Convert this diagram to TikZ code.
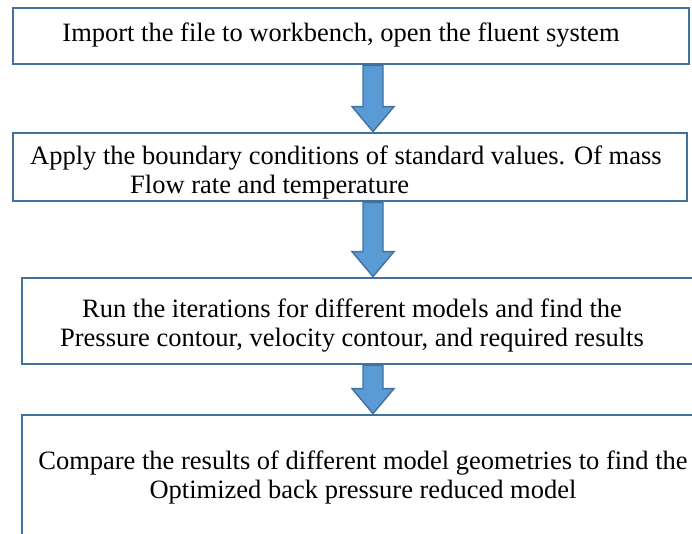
\documentclass[tikz,border=0pt]{standalone}
\usepackage{fontspec}
\setmainfont{Liberation Serif}
\usetikzlibrary{calc}
\definecolor{edgeblue}{RGB}{65,113,156}
\definecolor{arrowblue}{RGB}{91,155,213}

\begin{document}
\begin{tikzpicture}[x=1pt, y=-1pt,
      stage/.style={draw=edgeblue, line width=2.8pt, fill=white, inner sep=0pt},
      txt/.style={font=\fontsize{26.5}{29}\selectfont, align=center, inner sep=0pt},
      flowarr/.style={draw=edgeblue, line width=1.4pt, fill=arrowblue, line join=miter}]

    \useasboundingbox (0,0) rectangle (692,533);
    \clip (0,0) rectangle (692,533);
    \fill[white] (0,0) rectangle (692,533);

    \node[stage, minimum width=676pt, minimum height=56pt] (b1) at (351,36)  {};
    \node[stage, minimum width=674pt, minimum height=68pt] (b2) at (350,167) {};
    \node[stage, minimum width=700pt, minimum height=86pt] (b3) at (372,321) {};
    \node[stage, minimum width=700pt, minimum height=150pt] (b4) at (372,490) {};

    \node[txt] (t1) at (341,35) {Import the file to workbench, open the fluent system};
    \node[txt, align=left, anchor=west] (t2) at (30,172)
      {Apply the boundary conditions of standard values. Of mass\\\hspace*{100pt}Flow rate and temperature};
    \node[txt] (t3) at (352,326) {Run the iterations for different models and find the\\Pressure contour, velocity contour, and required results};
    \node[txt] (t4) at (363,477) {Compare the results of different model geometries to find the\\Optimized back pressure reduced model};

    \coordinate (ax) at (373,0);
    \foreach \a/\b in {b1/b2, b2/b3, b3/b4}
      \draw[flowarr] let \p1=(\a.south -| ax), \p2=(\b.north -| ax) in
        (\x1-10pt,\y1) -- (\x1+10pt,\y1) -- (\x1+10pt,\y2+25pt) -- (\x1+21pt,\y2+25pt)
        -- (\x2,\y2) -- (\x1-21pt,\y2+25pt) -- (\x1-10pt,\y2+25pt) -- cycle;
  \end{tikzpicture}
\end{document}
